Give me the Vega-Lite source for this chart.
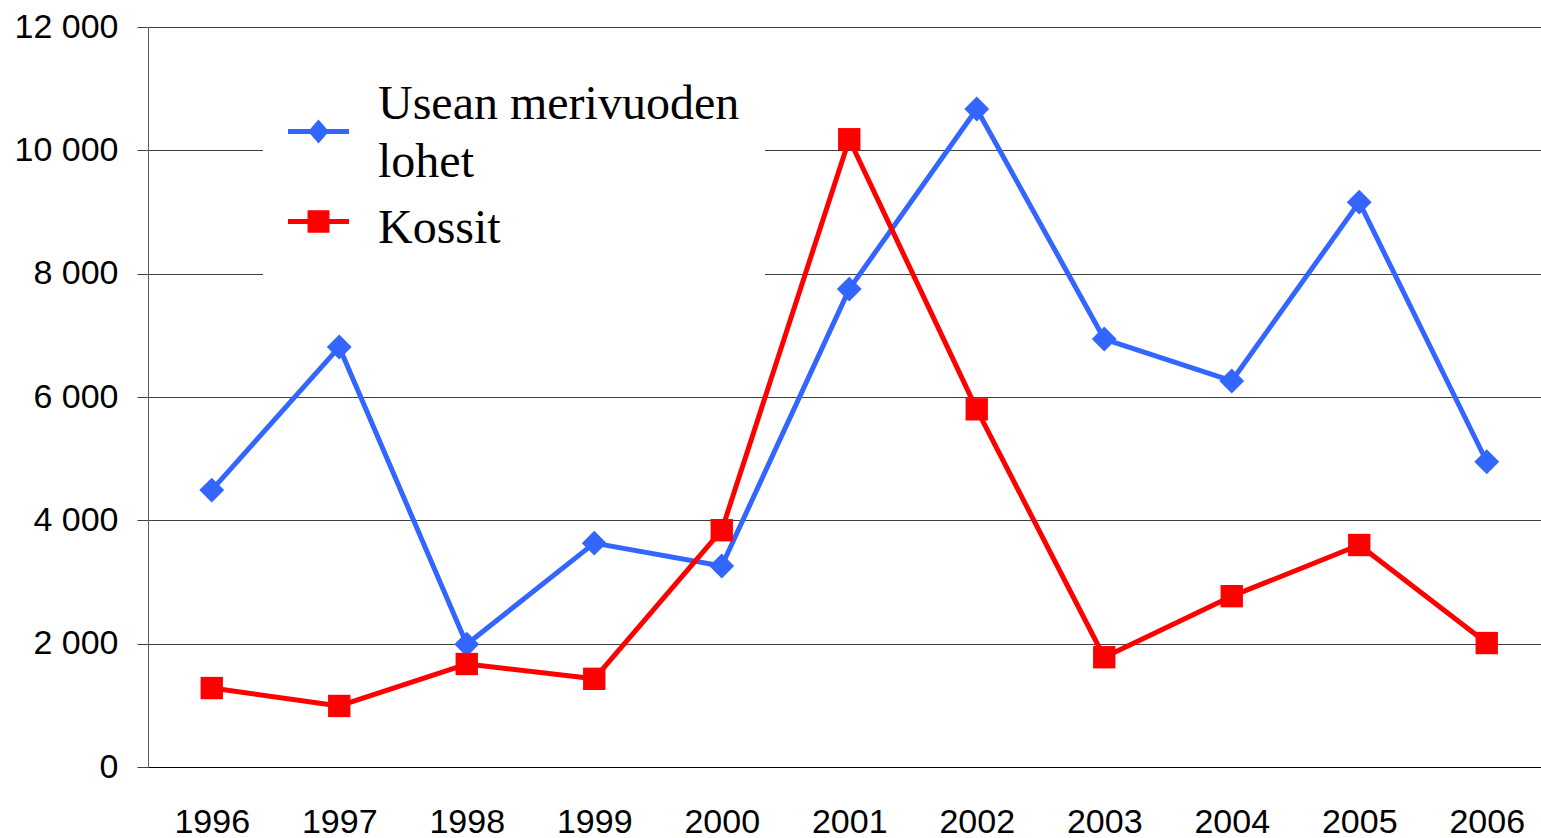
{
  "$schema": "https://vega.github.io/schema/vega-lite/v6.json",
  "width": 1393,
  "height": 740,
  "autosize": {"type": "none"},
  "padding": {"left": 148, "top": 27, "right": 0, "bottom": 71},
  "background": "white",
  "config": {
    "view": {"stroke": null},
    "font": "Liberation Sans"
  },
  "data": {
    "values": [
      {"year": 1996, "series": "Usean merivuoden lohet", "value": 4490},
      {"year": 1997, "series": "Usean merivuoden lohet", "value": 6810},
      {"year": 1998, "series": "Usean merivuoden lohet", "value": 1990},
      {"year": 1999, "series": "Usean merivuoden lohet", "value": 3630},
      {"year": 2000, "series": "Usean merivuoden lohet", "value": 3260},
      {"year": 2001, "series": "Usean merivuoden lohet", "value": 7750},
      {"year": 2002, "series": "Usean merivuoden lohet", "value": 10670},
      {"year": 2003, "series": "Usean merivuoden lohet", "value": 6940},
      {"year": 2004, "series": "Usean merivuoden lohet", "value": 6260},
      {"year": 2005, "series": "Usean merivuoden lohet", "value": 9160},
      {"year": 2006, "series": "Usean merivuoden lohet", "value": 4950},
      {"year": 1996, "series": "Kossit", "value": 1280},
      {"year": 1997, "series": "Kossit", "value": 990},
      {"year": 1998, "series": "Kossit", "value": 1670},
      {"year": 1999, "series": "Kossit", "value": 1430},
      {"year": 2000, "series": "Kossit", "value": 3840},
      {"year": 2001, "series": "Kossit", "value": 10180},
      {"year": 2002, "series": "Kossit", "value": 5800},
      {"year": 2003, "series": "Kossit", "value": 1780},
      {"year": 2004, "series": "Kossit", "value": 2770},
      {"year": 2005, "series": "Kossit", "value": 3600},
      {"year": 2006, "series": "Kossit", "value": 2010}
    ]
  },
  "encoding": {
    "x": {
      "field": "year",
      "type": "quantitative",
      "scale": {"domain": [1995.5, 2006.4255], "nice": false, "zero": false},
      "axis": {
        "title": null,
        "values": [1996, 1997, 1998, 1999, 2000, 2001, 2002, 2003, 2004, 2005, 2006],
        "format": "d",
        "grid": false,
        "ticks": false,
        "domain": true,
        "domainColor": "#000000",
        "domainWidth": 1.2,
        "labelFont": "Liberation Sans",
        "labelFontSize": 34,
        "labelColor": "#000000",
        "labelPadding": 38,
        "labelFlush": false,
        "labelOverlap": false,
        "labelBound": false
      }
    },
    "y": {
      "field": "value",
      "type": "quantitative",
      "scale": {"domain": [0, 12000], "nice": false},
      "axis": {
        "title": null,
        "values": [0, 2000, 4000, 6000, 8000, 10000, 12000],
        "labelExpr": "replace(format(datum.value, ','), ',', ' ')",
        "grid": true,
        "gridColor": "#404040",
        "gridWidth": 1,
        "domain": true,
        "domainColor": "#606060",
        "ticks": true,
        "tickSize": 11,
        "tickColor": "#404040",
        "labelFont": "Liberation Sans",
        "labelFontSize": 34,
        "labelColor": "#000000",
        "labelPadding": 19,
        "labelOverlap": false,
        "labelBound": false
      }
    },
    "color": {
      "field": "series",
      "type": "nominal",
      "scale": {"domain": ["Usean merivuoden lohet", "Kossit"], "range": ["#3366FF", "#FF0000"]},
      "legend": {
        "title": null,
        "orient": "none",
        "legendX": 115,
        "legendY": 49,
        "fillColor": "white",
        "padding": 25,
        "symbolSize": 3721,
        "symbolStrokeWidth": 0,
        "symbolOpacity": 1,
        "labelFont": "Liberation Serif",
        "labelFontSize": 48,
        "labelColor": "#000000",
        "labelOffset": 29,
        "labelLimit": 600,
        "labelExpr": "datum.label == 'Usean merivuoden lohet' ? ['Usean merivuoden', 'lohet'] : datum.label",
        "rowPadding": 4,
        "encode": {
          "symbols": {
            "update": {
              "shape": {"signal": "datum.value == 'Kossit' ? 'M-1,-0.082H-0.36V-0.37H0.36V-0.082H1V0.082H0.36V0.37H-0.36V0.082H-1Z' : 'M-1,-0.082H-0.27L0,-0.39L0.27,-0.082H1V0.082H0.27L0,0.39L-0.27,0.082H-1Z'"},
              "fill": {"signal": "datum.value == 'Kossit' ? '#FF0000' : '#3366FF'"},
              "stroke": {"value": "transparent"},
              "strokeWidth": {"value": 0}
            }
          },
          "labels": {
            "update": {
              "lineHeight": {"value": 58},
              "dy": {"signal": "datum.value == 'Kossit' ? 7 : -27"}
            }
          }
        }
      }
    }
  },
  "layer": [
    {
      "mark": {"type": "line", "strokeWidth": 5, "strokeJoin": "round", "strokeCap": "round"}
    },
    {
      "transform": [{"filter": "datum.series == 'Usean merivuoden lohet'"}],
      "mark": {"type": "point", "shape": "diamond", "size": 620, "filled": true, "opacity": 1, "strokeWidth": 0}
    },
    {
      "transform": [{"filter": "datum.series == 'Kossit'"}],
      "mark": {"type": "point", "shape": "square", "size": 500, "filled": true, "opacity": 1, "strokeWidth": 0}
    }
  ]
}
